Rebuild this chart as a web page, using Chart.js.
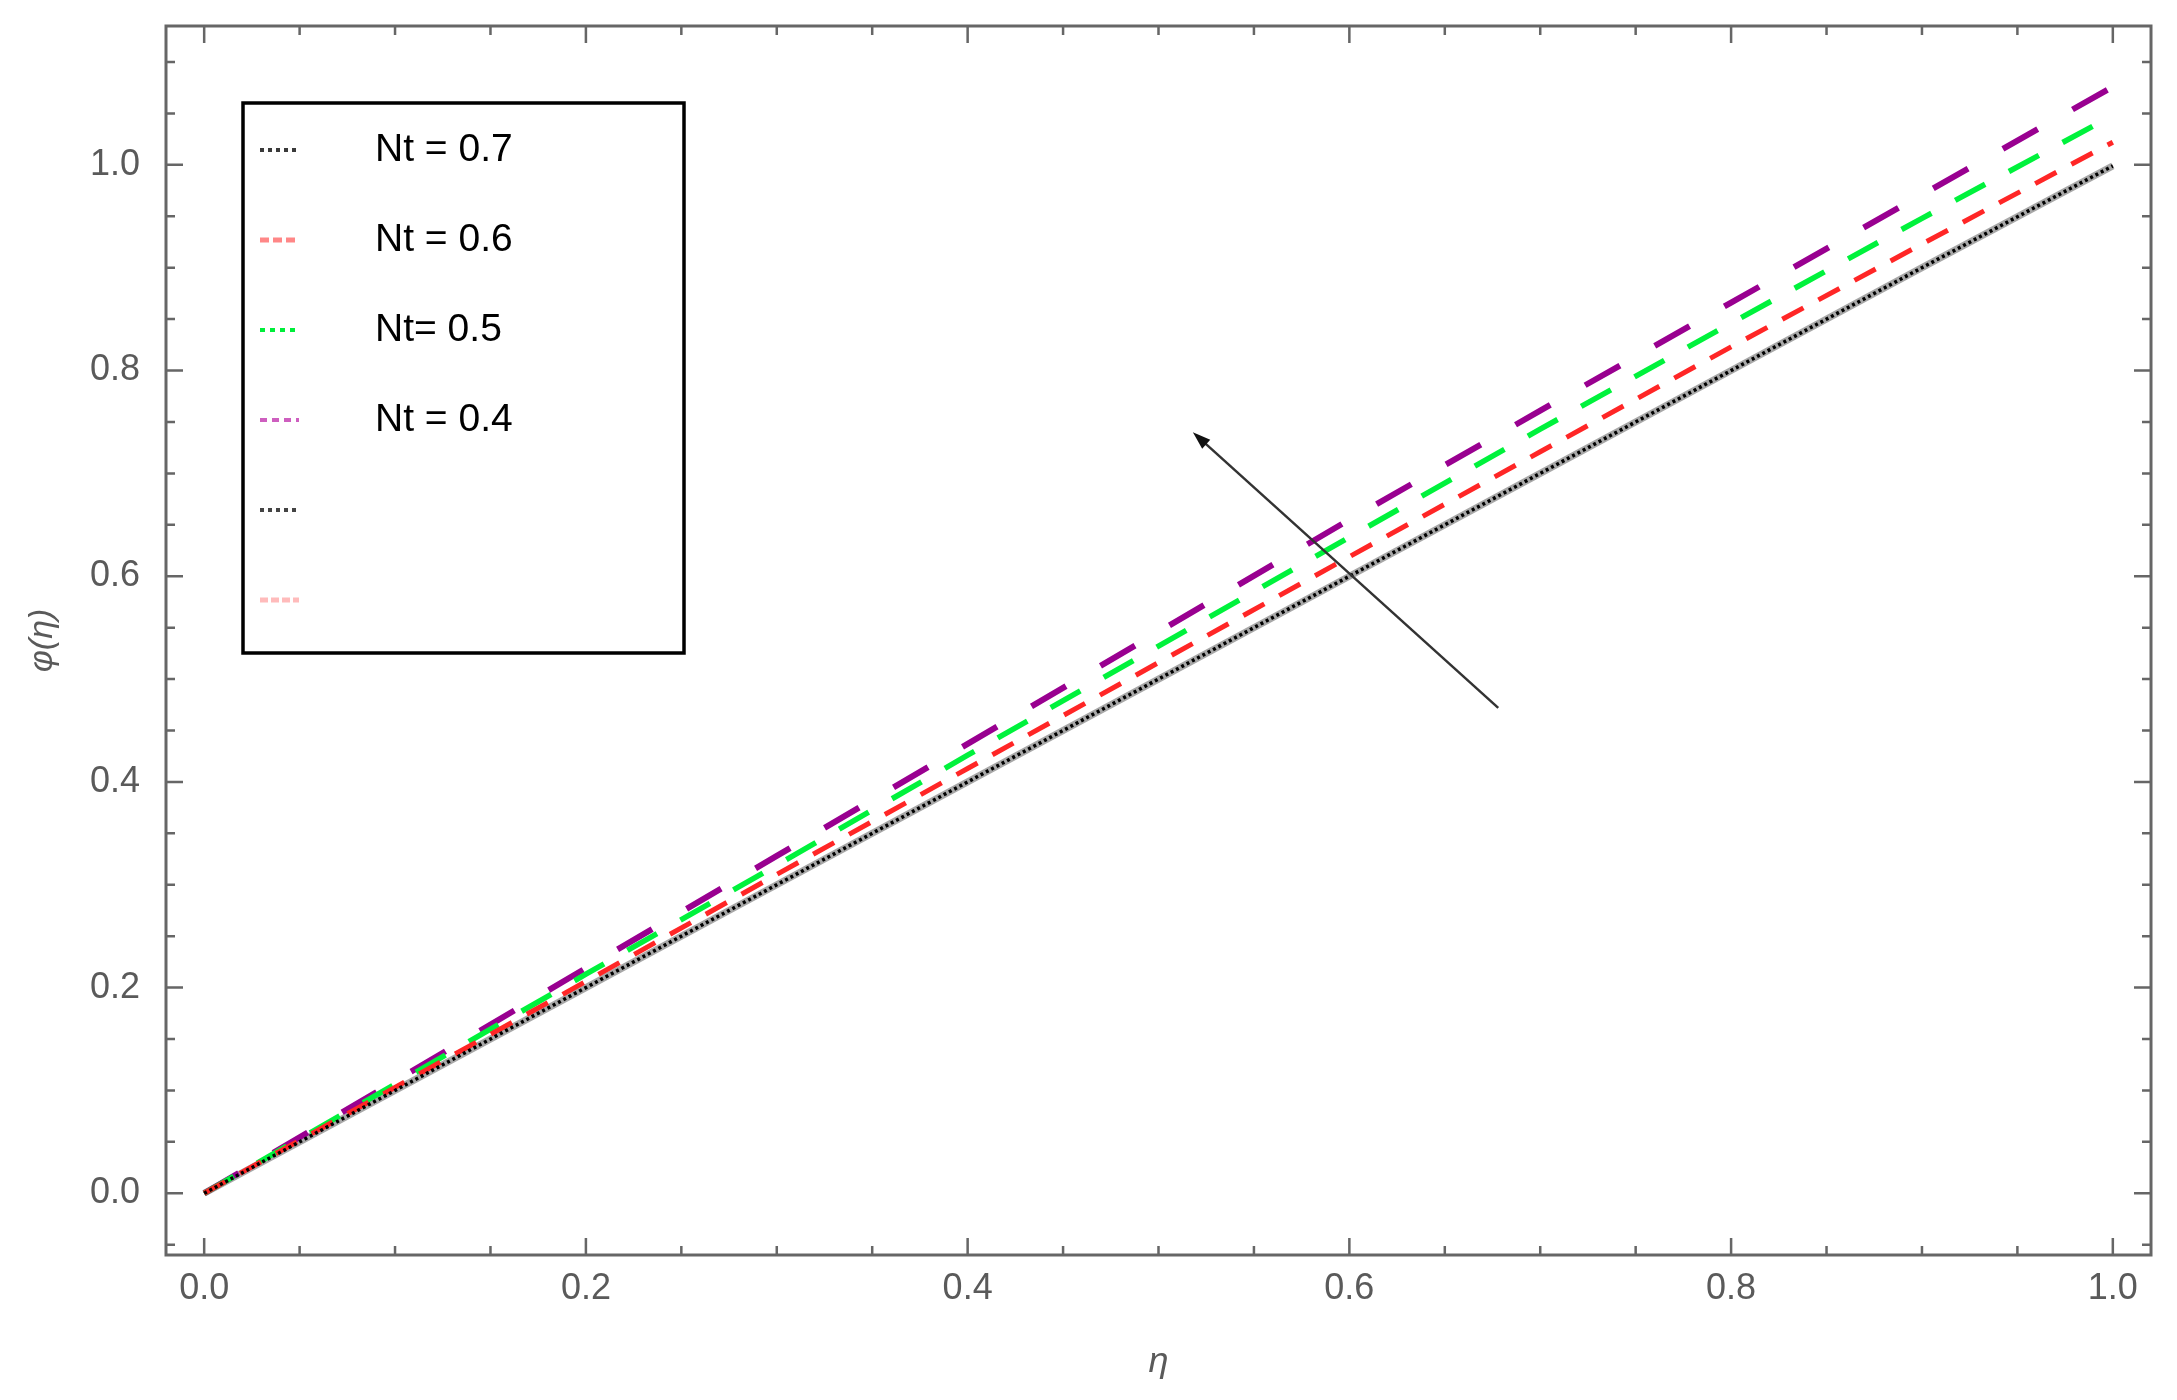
<!DOCTYPE html>
<html><head><meta charset="utf-8">
<script src="https://cdn.jsdelivr.net/npm/chart.js@4.4.0/dist/chart.umd.min.js"></script>
<style>html,body{margin:0;padding:0;background:#fff;} canvas{display:block;}</style>
</head><body>
<canvas id="c" width="2177" height="1400"></canvas>
<script>
// ---- data ----
const eta   = [0, 0.1, 0.2, 0.3, 0.4, 0.5, 0.6, 0.7, 0.8, 0.9, 1.0];
const nt07  = [0, 0.100, 0.200, 0.300, 0.400, 0.500, 0.600, 0.700, 0.800, 0.900, 0.999];
const nt06  = [0, 0.103, 0.206, 0.310, 0.413, 0.516, 0.619, 0.721, 0.823, 0.923, 1.022];
const nt05  = [0, 0.106, 0.213, 0.319, 0.426, 0.532, 0.638, 0.743, 0.846, 0.948, 1.048];
const nt04  = [0, 0.109, 0.219, 0.328, 0.437, 0.546, 0.655, 0.761, 0.866, 0.971, 1.076];
const blankA = [0, 0.100, 0.200, 0.300, 0.400, 0.500, 0.600, 0.700, 0.800, 0.900, 0.999];
const blankB = [0, 0.100, 0.200, 0.300, 0.400, 0.500, 0.600, 0.700, 0.800, 0.900, 0.999];
const seriesLabels = ['Nt = 0.7', 'Nt = 0.6', 'Nt= 0.5', 'Nt = 0.4', '', ''];
const xTickValues = [0, 0.2, 0.4, 0.6, 0.8, 1.0];
const xTickLabels = ['0.0', '0.2', '0.4', '0.6', '0.8', '1.0'];
const yTickValues = [0, 0.2, 0.4, 0.6, 0.8, 1.0];
const yTickLabels = ['0.0', '0.2', '0.4', '0.6', '0.8', '1.0'];
const xTitle = 'η';
const yTitle = 'φ(η)';
const arrowFrom = [0.678, 0.472];
const arrowTo   = [0.518, 0.740];

const pts = arr => eta.map((x, i) => ({x: x, y: arr[i]}));

const legendStyles = [
  {color: '#3a3a3a', width: 4, dash: [4, 4]},
  {color: 'rgba(255,70,70,0.65)', width: 5, dash: [9, 4]},
  {color: '#00ee3a', width: 4, dash: [5, 5]},
  {color: 'rgba(190,40,170,0.75)', width: 4, dash: [7, 5]},
  {color: '#444', width: 4, dash: [4, 4]},
  {color: 'rgba(255,120,120,0.5)', width: 5, dash: [8, 3]}
];

const decor = {
  id: 'decor',
  afterDraw(chart) {
    const {ctx, chartArea: ca, scales: {x, y}} = chart;
    ctx.save();
    ctx.strokeStyle = '#666';
    ctx.lineWidth = 2.5;
    const step = 0.05;
    const isMajor = (vals, v) => vals.some(t => Math.abs(t - v) < 1e-6);
    ctx.beginPath();
    for (let k = Math.ceil(x.min / step - 1e-9); k * step <= x.max + 1e-9; k++) {
      const v = k * step, px = x.getPixelForValue(v);
      const len = isMajor(xTickValues, v) ? 17 : 9;
      ctx.moveTo(px, ca.bottom); ctx.lineTo(px, ca.bottom - len);
      ctx.moveTo(px, ca.top); ctx.lineTo(px, ca.top + len);
    }
    for (let k = Math.ceil(y.min / step - 1e-9); k * step <= y.max + 1e-9; k++) {
      const v = k * step, py = y.getPixelForValue(v);
      const len = isMajor(yTickValues, v) ? 17 : 9;
      ctx.moveTo(ca.left, py); ctx.lineTo(ca.left + len, py);
      ctx.moveTo(ca.right, py); ctx.lineTo(ca.right - len, py);
    }
    ctx.stroke();
    ctx.lineWidth = 3;
    ctx.strokeRect(ca.left, ca.top, ca.right - ca.left, ca.bottom - ca.top);

    // arrow
    const x0 = x.getPixelForValue(arrowFrom[0]), y0 = y.getPixelForValue(arrowFrom[1]);
    const x1 = x.getPixelForValue(arrowTo[0]), y1 = y.getPixelForValue(arrowTo[1]);
    const ang = Math.atan2(y1 - y0, x1 - x0);
    const hl = 18, hw = 6;
    ctx.strokeStyle = '#333';
    ctx.lineWidth = 2.5;
    ctx.beginPath();
    ctx.moveTo(x0, y0);
    ctx.lineTo(x1 - Math.cos(ang) * hl * 0.8, y1 - Math.sin(ang) * hl * 0.8);
    ctx.stroke();
    ctx.fillStyle = '#111';
    ctx.beginPath();
    ctx.moveTo(x1, y1);
    ctx.lineTo(x1 - Math.cos(ang) * hl - Math.sin(ang) * hw, y1 - Math.sin(ang) * hl + Math.cos(ang) * hw);
    ctx.lineTo(x1 - Math.cos(ang) * hl + Math.sin(ang) * hw, y1 - Math.sin(ang) * hl - Math.cos(ang) * hw);
    ctx.closePath();
    ctx.fill();

    // legend box
    const bx = ca.left + 77, by = ca.top + 77, bw = 441, bh = 550;
    ctx.fillStyle = '#fff';
    ctx.fillRect(bx, by, bw, bh);
    ctx.strokeStyle = '#000';
    ctx.lineWidth = 3.5;
    ctx.strokeRect(bx, by, bw, bh);
    ctx.font = '39px "Liberation Sans", Arial, sans-serif';
    ctx.textBaseline = 'middle';
    ctx.textAlign = 'left';
    chart.data.datasets.forEach((ds, i) => {
      const ry = by + 47 + i * 90;
      const st = legendStyles[i];
      ctx.strokeStyle = st.color;
      ctx.lineWidth = st.width;
      ctx.setLineDash(st.dash);
      ctx.beginPath();
      ctx.moveTo(bx + 17, ry); ctx.lineTo(bx + 56, ry);
      ctx.stroke();
      ctx.setLineDash([]);
      ctx.fillStyle = '#000';
      ctx.fillText(ds.label, bx + 132, ry);
    });
    ctx.restore();
  }
};

new Chart(document.getElementById('c'), {
  type: 'line',
  data: {
    datasets: [
      {label: seriesLabels[0], data: pts(nt07), borderColor: '#000', borderWidth: 3.5, borderDash: [3, 3]},
      {label: seriesLabels[1], data: pts(nt06), borderColor: '#ff2626', borderWidth: 5, borderDash: [24, 17]},
      {label: seriesLabels[2], data: pts(nt05), borderColor: '#00f23c', borderWidth: 5.5, borderDash: [34, 27]},
      {label: seriesLabels[3], data: pts(nt04), borderColor: '#990090', borderWidth: 6, borderDash: [40, 40]},
      {label: seriesLabels[4], data: pts(blankA), borderColor: '#a8a8a8', borderWidth: 7},
      {label: seriesLabels[5], data: pts(blankB), borderColor: '#ffb0b0', borderWidth: 2}
    ]
  },
  options: {
    responsive: false,
    animation: false,
    devicePixelRatio: 1,
    layout: {padding: {top: 26, right: 26, left: 0, bottom: 0}},
    elements: {point: {radius: 0}, line: {tension: 0, fill: false, borderCapStyle: 'butt'}},
    plugins: {legend: {display: false}, tooltip: {enabled: false}},
    scales: {
      x: {
        type: 'linear', min: -0.02, max: 1.02,
        border: {display: false},
        grid: {display: false},
        afterBuildTicks: s => { s.ticks = xTickValues.map(v => ({value: v})); },
        afterFit: s => { s.height = 145; s.paddingLeft = 0; s.paddingRight = 0; },
        ticks: {
          autoSkip: false, maxRotation: 0, padding: 4, color: '#5a5a5a',
          font: {family: '"Liberation Sans", Arial, sans-serif', size: 36},
          callback: v => { const i = xTickValues.findIndex(t => Math.abs(t - v) < 1e-6); return i >= 0 ? xTickLabels[i] : ''; }
        },
        title: {display: true, text: xTitle, color: '#5a5a5a', padding: {top: 0, bottom: 16},
          font: {family: '"Liberation Sans", Arial, sans-serif', size: 36, style: 'italic'}}
      },
      y: {
        type: 'linear', min: -0.06, max: 1.135,
        border: {display: false},
        grid: {display: false},
        afterBuildTicks: s => { s.ticks = yTickValues.map(v => ({value: v})); },
        afterFit: s => { s.width = 166; s.paddingTop = 0; s.paddingBottom = 0; },
        ticks: {
          autoSkip: false, padding: 18, color: '#5a5a5a',
          font: {family: '"Liberation Sans", Arial, sans-serif', size: 36},
          callback: v => { const i = yTickValues.findIndex(t => Math.abs(t - v) < 1e-6); return i >= 0 ? yTickLabels[i] : ''; }
        },
        title: {display: true, text: yTitle, color: '#5a5a5a', padding: {top: 22, bottom: 0},
          font: {family: '"Liberation Sans", Arial, sans-serif', size: 34, style: 'italic'}}
      }
    }
  },
  plugins: [decor]
});
</script>
</body></html>
